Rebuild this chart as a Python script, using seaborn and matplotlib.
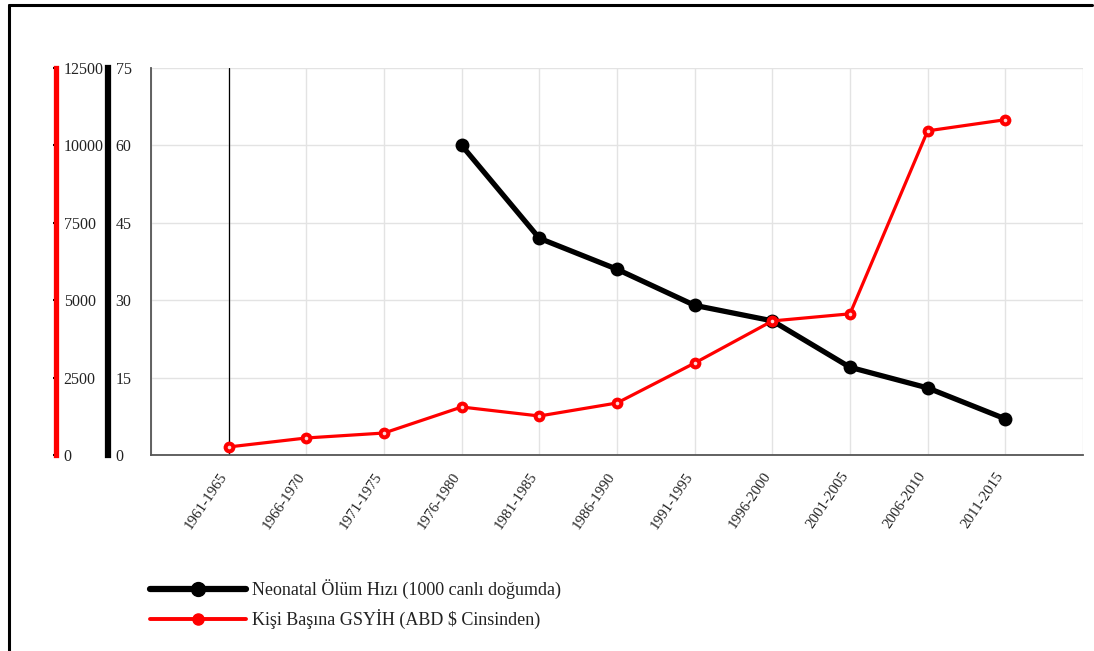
import matplotlib
matplotlib.use("Agg")
import matplotlib.pyplot as plt
import matplotlib.transforms as mtransforms
from matplotlib.lines import Line2D
import numpy as np
import pandas as pd
import seaborn as sns

periods = ["1961-1965", "1966-1970", "1971-1975", "1976-1980", "1981-1985",
           "1986-1990", "1991-1995", "1996-2000", "2001-2005", "2006-2010",
           "2011-2015"]
neonatal = [np.nan, np.nan, np.nan, 60, 42, 36, 29, 26, 17, 13, 7]
gdp = [260, 550, 710, 1550, 1260, 1680, 2970, 4330, 4560, 10470, 10830]
neonatal_ticks = [0, 15, 30, 45, 60, 75]
gdp_ticks = [0, 2500, 5000, 7500, 10000, 12500]

label_neo = "Neonatal Ölüm Hızı (1000 canlı doğumda)"
label_gdp = "Kişi Başına GSYİH (ABD $ Cinsinden)"

sns.set_theme(style="white")
plt.rcParams["font.family"] = ["Liberation Serif", "DejaVu Serif"]

df = pd.DataFrame({"pos": np.arange(len(periods)), "neo": neonatal, "gdp": gdp})

fig = plt.figure(figsize=(10.94, 6.51), dpi=100)
ax = fig.add_axes([151 / 1094, 1 - 455 / 651, 932 / 1094, 387 / 651])

# background grid on the category axis
ax.set_xlim(-1, len(periods))
ax.set_ylim(0, 75)
ax.set_xticks(np.arange(-1, len(periods) + 1))
ax.set_xticklabels([])
ax.set_yticks(neonatal_ticks)
ax.set_yticklabels([])
ax.grid(True, color="#e3e3e3", linewidth=1)
ax.tick_params(axis="both", length=0)
for side in ["top", "right"]:
    ax.spines[side].set_visible(False)
for side in ["left", "bottom"]:
    ax.spines[side].set_color("#555555")
    ax.spines[side].set_linewidth(1.3)
ax.axvline(0, color="black", linewidth=0.9, zorder=1)

# rotated category labels, anchored just below and left of each tick
label_offset = mtransforms.ScaledTranslation(-10 / 100, -15 / 100, fig.dpi_scale_trans)
for i, name in enumerate(periods):
    ax.text(i, 0, name, transform=ax.get_xaxis_transform() + label_offset,
            rotation=56, rotation_mode="anchor", ha="right", va="top",
            fontsize=10.8, color="#222222")

# black series axis
ax_neo = ax.twinx()
ax_neo.set_ylim(0, 75)
sns.lineplot(data=df, x="pos", y="neo", ax=ax_neo, color="black", linewidth=3.8,
             marker="o", markersize=10, markeredgewidth=0, legend=False)
ax_neo.set_xlabel("")
ax_neo.set_ylabel("")
ax_neo.yaxis.tick_right()
ax_neo.set_yticks(neonatal_ticks)
ax_neo.tick_params(axis="y", direction="inout", length=5, width=1.5,
                   colors="black", labelcolor="#222222", labelsize=11.5, pad=3)
for side in ["top", "left", "bottom"]:
    ax_neo.spines[side].set_visible(False)
ax_neo.spines["right"].set_position(("axes", (108 - 151) / 932))
ax_neo.spines["right"].set_color("black")
ax_neo.spines["right"].set_linewidth(4.5)

# red series axis
ax_gdp = ax.twinx()
ax_gdp.set_ylim(0, 12500)
sns.lineplot(data=df, x="pos", y="gdp", ax=ax_gdp, color="#ff0000", linewidth=2.3,
             marker="o", markersize=8.5, markerfacecolor="#ff0000",
             markeredgewidth=0, legend=False)
# light centre dot on each red marker
ax_gdp.plot(df["pos"], df["gdp"], linestyle="none", marker="o", markersize=2.6,
            markerfacecolor="#ffd6d6", markeredgewidth=0)
ax_gdp.set_xlabel("")
ax_gdp.set_ylabel("")
ax_gdp.yaxis.tick_right()
ax_gdp.set_yticks(gdp_ticks)
ax_gdp.set_yticklabels([str(t) for t in gdp_ticks])
ax_gdp.tick_params(axis="y", direction="inout", length=5, width=1.5,
                   colors="black", labelcolor="#222222", labelsize=11.5, pad=3)
for side in ["top", "left", "bottom"]:
    ax_gdp.spines[side].set_visible(False)
ax_gdp.spines["right"].set_position(("axes", (56 - 151) / 932))
ax_gdp.spines["right"].set_color("#ff0000")
ax_gdp.spines["right"].set_linewidth(3.8)

ax.set_xlim(-1, len(periods))

# legend
handles = [
    Line2D([], [], color="black", linewidth=4.5, marker="o", markersize=10),
    Line2D([], [], color="#ff0000", linewidth=2.8, marker="o", markersize=8),
]
fig.legend(handles, [label_neo, label_gdp], loc="upper left",
           bbox_to_anchor=(134 / 1094, 1 - 563 / 651), frameon=False,
           fontsize=13, handlelength=5.3, handletextpad=0.35,
           labelspacing=0.55, labelcolor="#222222")

# frame lines along the left and top edges
fig.add_artist(Line2D([9 / 1094, 9 / 1094], [0, 1 - 5 / 651], color="black",
                      linewidth=2.2, transform=fig.transFigure))
fig.add_artist(Line2D([9 / 1094, 1092 / 1094], [1 - 5 / 651, 1 - 5 / 651],
                      color="black", linewidth=2.2, transform=fig.transFigure))

fig.savefig("out.png", dpi=100)
